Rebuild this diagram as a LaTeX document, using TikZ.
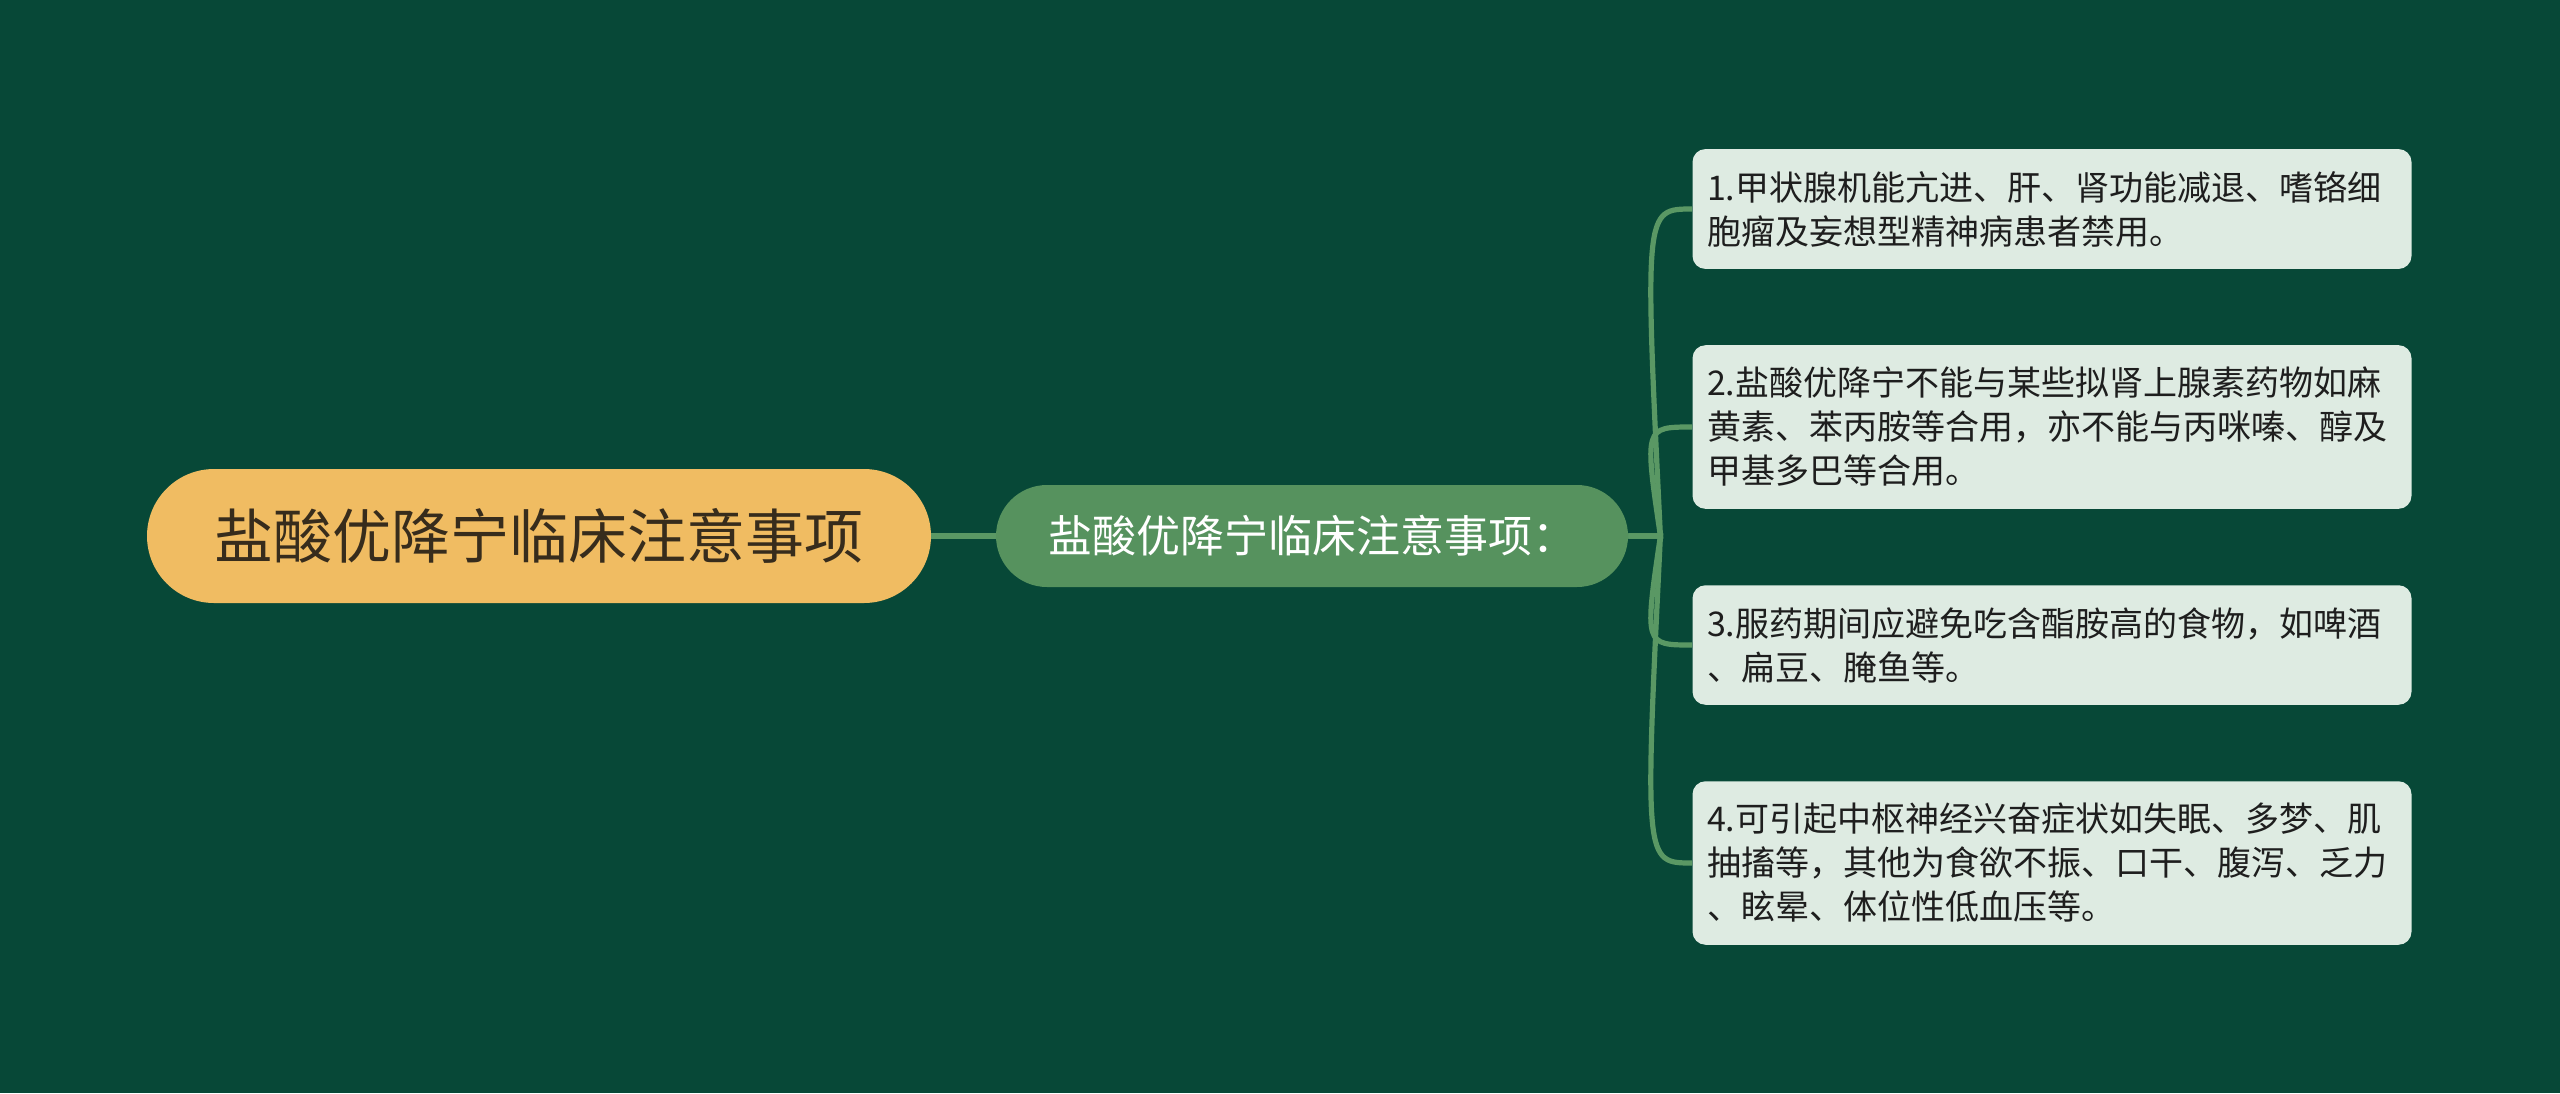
\documentclass[tikz,border=0pt]{standalone}
\usepackage{fontspec}
\setmainfont{Noto Sans CJK SC}
\usepackage{tikz}
\usetikzlibrary{trees,calc,shapes}
\usepackage{xcolor}
\definecolor{bgcol}{RGB}{7,72,55}
\definecolor{rootfill}{RGB}{240,188,98}
\definecolor{roottext}{RGB}{55,44,28}
\definecolor{topicfill}{RGB}{86,146,94}
\definecolor{linecol}{RGB}{90,152,100}
\definecolor{itemfill}{RGB}{222,235,226}
\definecolor{itemtext}{RGB}{30,30,30}

\begin{document}
\begin{tikzpicture}[grow'=right,
		level 1/.style={level distance=386.5pt,
			edge from parent/.style={draw, linecol, line width=3pt}},
		level 2/.style={level distance=370pt, sibling distance=109pt,
			edge from parent/.style={draw, linecol, line width=2.6pt},
			edge from parent path={(\tikzparentnode.east) -- ++(16pt,0) coordinate (split)
				.. controls (split |- \tikzchildnode.west) and (split |- \tikzchildnode.west) .. (\tikzchildnode.west)}}]
		\tikzstyle{rootnode}=[fill=rootfill, text=roottext, rounded corners=33.5pt,
			minimum width=392pt, minimum height=67pt, font=\fontsize{29.5pt}{35pt}\selectfont]
		\tikzstyle{topicnode}=[fill=topicfill, text=white, rounded corners=25.5pt,
			minimum width=316pt, minimum height=51pt, font=\fontsize{22pt}{26pt}\selectfont]
		\tikzstyle{itemnode}=[fill=itemfill, text=itemtext, rounded corners=6.5pt,
			text width=345pt, align=left, inner xsep=7.25pt, inner ysep=11pt,
			font=\fontsize{17pt}{22pt}\selectfont]
		\fill[bgcol] (0,0) rectangle (1280pt,-546.5pt);
		\node[rootnode] (root) at (269.5pt,-268pt) {盐酸优降宁临床注意事项}
		child {node[topicnode] (topic) {盐酸优降宁临床注意事项：}
			child {node[itemnode] (item1) {1.甲状腺机能亢进、肝、肾功能减退、嗜铬细\\胞瘤及妄想型精神病患者禁用。}}
			child {node[itemnode] (item2) {2.盐酸优降宁不能与某些拟肾上腺素药物如麻\\黄素、苯丙胺等合用，亦不能与丙咪嗪、醇及\\甲基多巴等合用。}}
			child {node[itemnode] (item3) {3.服药期间应避免吃含酯胺高的食物，如啤酒\\、扁豆、腌鱼等。}}
			child {node[itemnode] (item4) {4.可引起中枢神经兴奋症状如失眠、多梦、肌\\抽搐等，其他为食欲不振、口干、腹泻、乏力\\、眩晕、体位性低血压等。}}
		};
\end{tikzpicture}
\end{document}
